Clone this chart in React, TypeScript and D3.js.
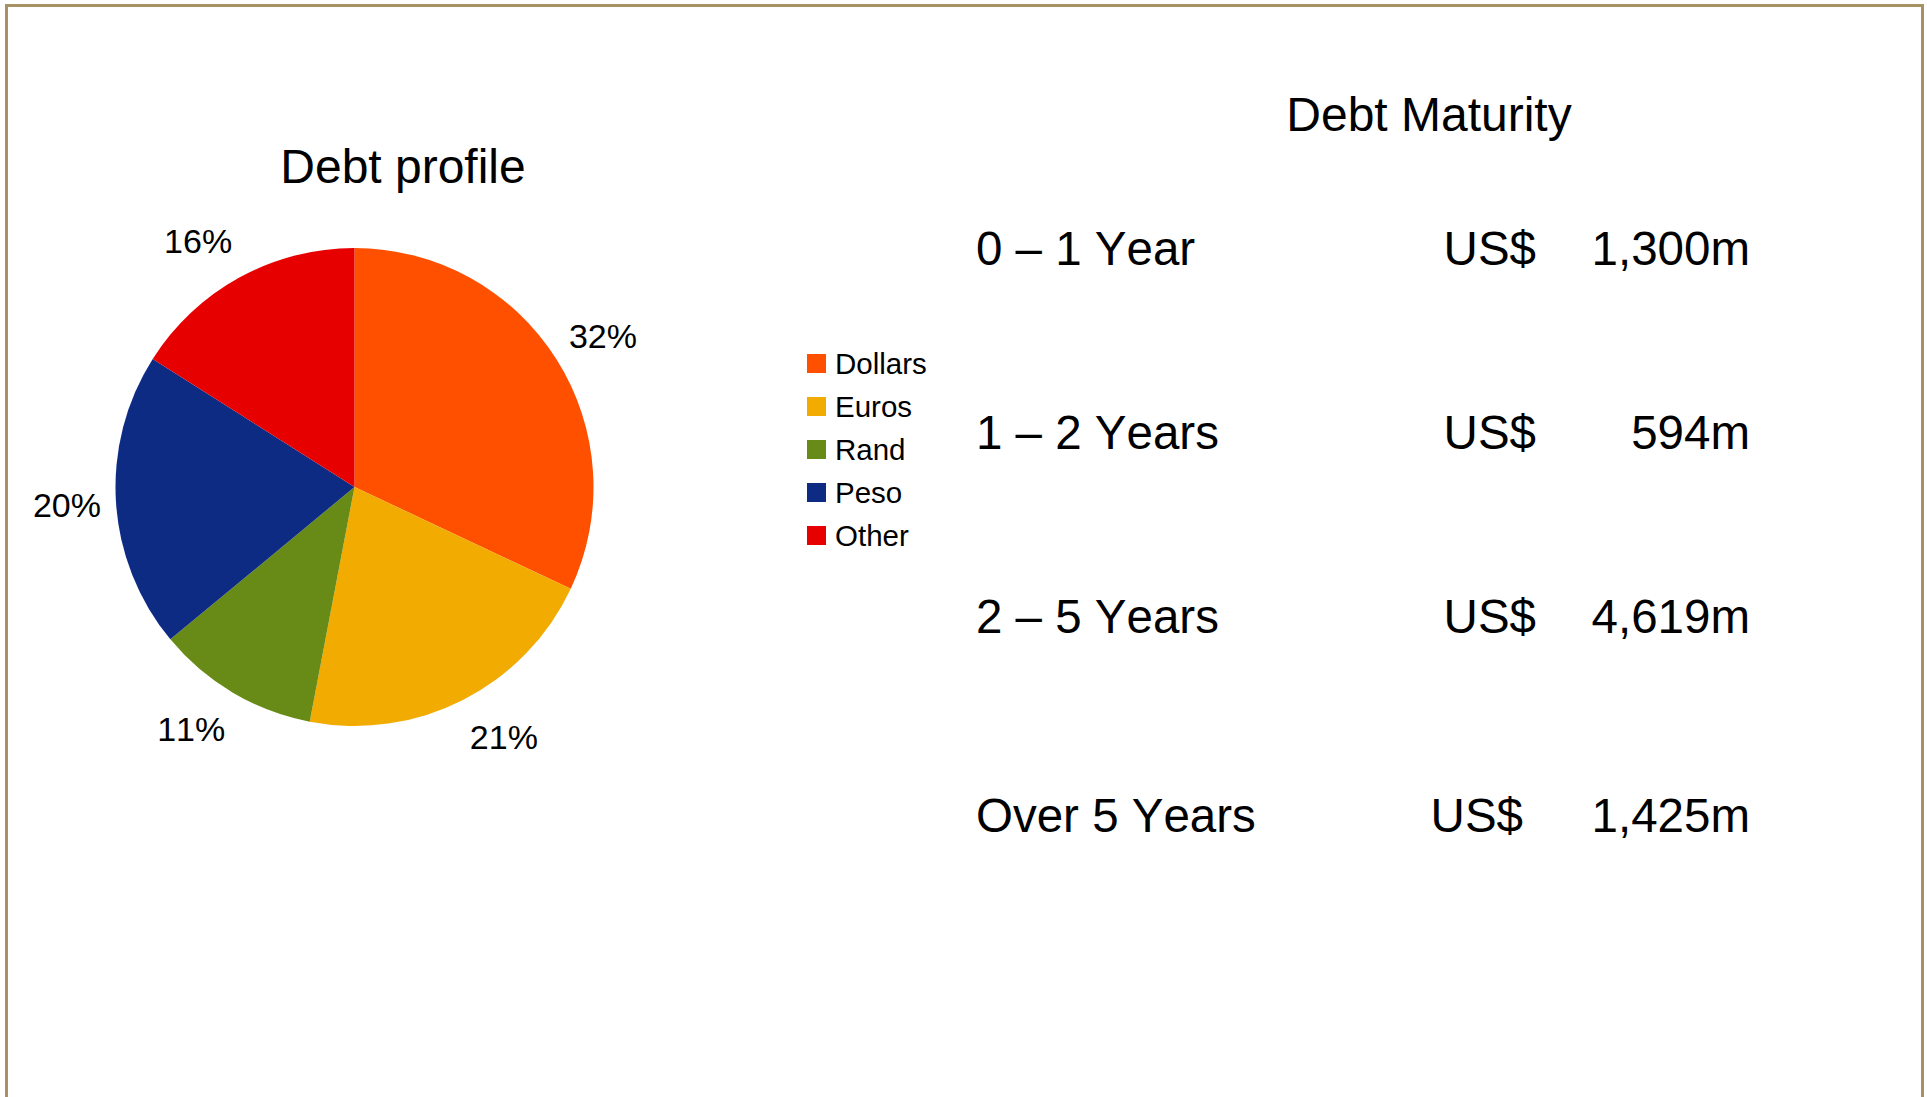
import React, { useEffect, useRef } from 'react'
import * as d3 from 'd3'

// debt profile by currency (%)
const currencies = ['Dollars', 'Euros', 'Rand', 'Peso', 'Other']
const shares = [32, 21, 11, 20, 16]
const sliceColors = ['#FF5000', '#F2AB00', '#688B17', '#0E2B84', '#E60000']

// debt maturity (US$ m)
const terms = ['0 – 1 Year', '1 – 2 Years', '2 – 5 Years', 'Over 5 Years']
const amounts = [1300, 594, 4619, 1425]

const WIDTH = 1927
const HEIGHT = 1097
const FONT = '"Liberation Sans", Arial, Helvetica, sans-serif'

// layout of the maturity table (baselines of each row, right edge of the US$ column)
const ROW_Y = [265, 449, 633, 832]
const CUR_X = [1536, 1536, 1536, 1523]

const App = () => {
  const ref = useRef<SVGSVGElement>(null)

  useEffect(() => {
    const svg = d3.select(ref.current)
    svg.selectAll('*').remove()

    // frame
    svg.append('rect')
      .attr('x', 6.5).attr('y', 5.5)
      .attr('width', 1916).attr('height', HEIGHT + 20)
      .attr('fill', '#fff')
      .attr('stroke', '#A89263')
      .attr('stroke-width', 3)

    // ---- pie ----
    const cx = 354.5
    const cy = 487
    const r = 239

    svg.append('text')
      .attr('x', 403).attr('y', 183)
      .attr('text-anchor', 'middle')
      .attr('font-size', 48)
      .text('Debt profile')

    const pie = d3.pie<number>().sort(null).value(d => d)
    const arcs = pie(shares)
    const arc = d3.arc<d3.PieArcDatum<number>>().innerRadius(0).outerRadius(r)

    const g = svg.append('g').attr('transform', `translate(${cx},${cy})`)

    g.selectAll('path')
      .data(arcs)
      .enter()
      .append('path')
      .attr('d', arc)
      .attr('fill', (d, i) => sliceColors[i])

    // labels sit just outside the rim, text box pushed away from the pie
    const labelRx = r + 15
    const labelRy = r + 42
    const mid = (d: d3.PieArcDatum<number>) => (d.startAngle + d.endAngle) / 2
    g.selectAll('text.pct')
      .data(arcs)
      .enter()
      .append('text')
      .classed('pct', true)
      .attr('font-size', 34)
      .attr('dominant-baseline', 'central')
      .attr('text-anchor', d => Math.sin(mid(d)) >= 0 ? 'start' : 'end')
      .attr('x', d => labelRx * Math.sin(mid(d)))
      .attr('y', d => -labelRy * Math.cos(mid(d)))
      .text(d => `${d.data}%`)

    // legend
    const legendY = d3.scalePoint<string>().domain(currencies).range([363.5, 535.5])
    const legend = svg.append('g')
    legend.selectAll('rect')
      .data(currencies)
      .enter()
      .append('rect')
      .attr('x', 807).attr('y', d => (legendY(d) as number) - 9.5)
      .attr('width', 19).attr('height', 19)
      .attr('fill', (d, i) => sliceColors[i])
    legend.selectAll('text')
      .data(currencies)
      .enter()
      .append('text')
      .attr('x', 835).attr('y', d => legendY(d) as number)
      .attr('dominant-baseline', 'central')
      .attr('font-size', 29.5)
      .text(d => d)

    // ---- maturity table ----
    svg.append('text')
      .attr('x', 1429).attr('y', 131)
      .attr('text-anchor', 'middle')
      .attr('font-size', 48)
      .text('Debt Maturity')

    const fmt = d3.format(',')
    const rows = svg.selectAll('g.row')
      .data(terms)
      .enter()
      .append('g')
      .classed('row', true)
      .attr('font-size', 47.5)

    rows.append('text')
      .attr('x', 976).attr('y', (d, i) => ROW_Y[i])
      .text(d => d)
    rows.append('text')
      .attr('x', (d, i) => CUR_X[i]).attr('y', (d, i) => ROW_Y[i])
      .attr('text-anchor', 'end')
      .text('US$')
    rows.append('text')
      .attr('x', 1750).attr('y', (d, i) => ROW_Y[i])
      .attr('text-anchor', 'end')
      .text((d, i) => `${fmt(amounts[i])}m`)
  }, [])

  return (
    <div style={{ position: 'absolute', left: 0, top: 0, width: WIDTH, height: HEIGHT, overflow: 'hidden', background: '#fff' }}>
      <svg ref={ref} width={WIDTH} height={HEIGHT} style={{ display: 'block', fontFamily: FONT, fontKerning: 'none' }} fill="#000"></svg>
    </div>
  )
}

export default App
